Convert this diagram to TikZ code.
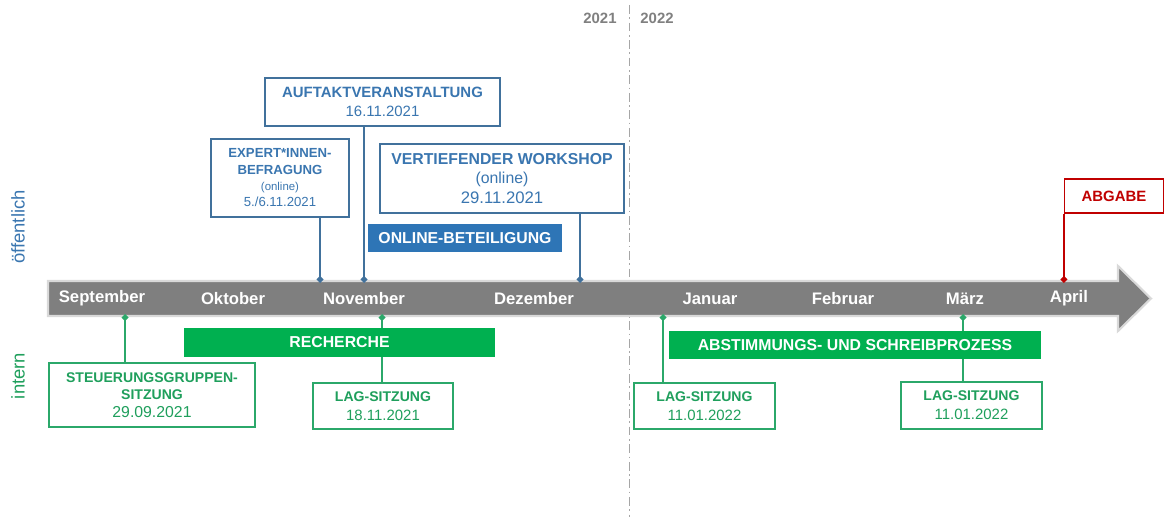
\documentclass[tikz,border=0pt]{standalone}
\usepackage{fontspec}
\setmainfont{Liberation Sans}
\usetikzlibrary{arrows.meta,positioning}
\usepackage{xcolor}
\definecolor{axisgrey}{HTML}{7F7F7F}
\definecolor{axisedge}{HTML}{D9D9D9}
\definecolor{yeargrey}{HTML}{808080}
\definecolor{publine}{HTML}{41719C}
\definecolor{pubtext}{HTML}{3A76B0}
\definecolor{pubfill}{HTML}{2E75B6}
\definecolor{intline}{HTML}{2BA86A}
\definecolor{inttext}{HTML}{1F9F5C}
\definecolor{intfill}{HTML}{00B050}
\definecolor{duered}{HTML}{C00000}

\tikzset{
  yearline/.style={draw=yeargrey!70, line width=0.5pt, dash pattern=on 5pt off 2pt on 1pt off 2pt},
  yeartext/.style={text=yeargrey, font=\fontsize{8.5}{10}\selectfont\bfseries},
  monthtext/.style={text=white, font=\fontsize{9.5}{11}\selectfont\bfseries},
  pubbox/.style={draw=publine, line width=0.6pt, fill=white, text=pubtext, align=center, inner sep=0pt},
  intbox/.style={draw=intline, line width=0.6pt, fill=white, text=inttext, align=center, inner sep=0pt},
  pubbar/.style={fill=pubfill, text=white, inner sep=0pt, font=\fontsize{9}{10}\selectfont\bfseries},
  intbar/.style={fill=intfill, text=white, inner sep=0pt, font=\fontsize{9}{10}\selectfont\bfseries},
  pubstem/.style={draw=publine, line width=1pt, -{Turned Square[length=4pt,width=4pt]}},
  intstem/.style={draw=intline, line width=1pt, -{Turned Square[length=4pt,width=4pt]}},
  duestem/.style={draw=duered, line width=1pt, -{Turned Square[length=4pt,width=4pt]}},
}

\begin{document}
\begin{tikzpicture}[x=0.02cm, y=-0.02cm]
  \useasboundingbox (0,0) rectangle (1164,517);

  % Year divider
  \draw[yearline] (629,5) -- (629,517);
  \node[yeartext] (y21) at (600,18) {2021};
  \node[yeartext] (y22) at (657,18) {2022};

  % Timeline arrow
  \filldraw[fill=axisgrey, draw=axisedge, line width=1.2pt]
    (48,281) -- (1118,281) -- (1118,266) -- (1151,298.5) -- (1118,331) -- (1118,316) -- (48,316) -- cycle;

  % Months
  \foreach \m/\x in {September/102, Oktober/233, November/364, Dezember/534,
                     Januar/710, Februar/843, März/965, April/1069}
    \node[monthtext] (m\x) at (\x,298.5) {\m};

  % Side labels
  \node[rotate=90, text=pubtext, font=\fontsize{10.5}{12}\selectfont] (lpub) at (18,227) {öffentlich};
  \node[rotate=90, text=inttext, font=\fontsize{10.5}{12}\selectfont] (lint) at (18,376) {intern};

  % Points on the axis
  \coordinate (tExp) at (320,283);
  \coordinate (tAuf) at (364,283);
  \coordinate (tVer) at (580,283);
  \coordinate (tAbg) at (1065,283);
  \coordinate (tSteu) at (125,314);
  \coordinate (tLagA) at (382,314);
  \coordinate (tLagB) at (663,314);
  \coordinate (tLagC) at (963,314);

  % Public events
  \node[pubbox, minimum width=4.7cm, minimum height=0.96cm,
        font=\fontsize{8.5}{10.8}\selectfont] (auftakt) at (382.5,102)
    {\textbf{AUFTAKTVERANSTALTUNG}\\16.11.2021};
  \node[pubbox, minimum width=2.76cm, minimum height=1.56cm,
        font=\fontsize{7.5}{9.3}\selectfont] (expert) at (280,178)
    {\textbf{EXPERT*INNEN-}\\\textbf{BEFRAGUNG}\\{\fontsize{6.5}{9.3}\selectfont(online)}\\5./6.11.2021};
  \node[pubbox, minimum width=4.88cm, minimum height=1.38cm,
        font=\fontsize{9}{11}\selectfont] (vertief) at (502,178.5)
    {\textbf{VERTIEFENDER WORKSHOP}\\(online)\\{\fontsize{9.5}{11}\selectfont 29.11.2021}};
  \node[pubbar, minimum width=3.88cm, minimum height=0.56cm] (online) at (465,238) {ONLINE-BETEILIGUNG};
  \node[pubbox, draw=duered, text=duered, minimum width=1.98cm, minimum height=0.68cm,
        font=\fontsize{8.5}{10}\selectfont\bfseries] (abgabe) at (1114,196) {ABGABE};

  \draw[pubstem] (expert.south -| tExp) -- (tExp);
  \draw[pubstem] (auftakt.south -| tAuf) -- (tAuf);
  \draw[pubstem] (vertief.south -| tVer) -- (tVer);
  \draw[duestem] (abgabe.south west) -- (abgabe.south west |- tAbg);

  % Internal events
  \node[intbox, minimum width=4.12cm, minimum height=1.28cm,
        font=\fontsize{8}{10}\selectfont] (steuer) at (152,395)
    {\textbf{STEUERUNGSGRUPPEN-}\\\textbf{SITZUNG}\\{\fontsize{9}{10}\selectfont 29.09.2021}};
  \node[intbox, minimum width=2.8cm, minimum height=0.92cm,
        font=\fontsize{8}{10.8}\selectfont] (lagA) at (383,406)
    {\textbf{LAG-SITZUNG}\\{\fontsize{8.5}{10.8}\selectfont 18.11.2021}};
  \node[intbox, minimum width=2.82cm, minimum height=0.92cm,
        font=\fontsize{8}{10.8}\selectfont] (lagB) at (704.5,406)
    {\textbf{LAG-SITZUNG}\\{\fontsize{8.5}{10.8}\selectfont 11.01.2022}};
  \node[intbox, minimum width=2.82cm, minimum height=0.94cm,
        font=\fontsize{8}{10.8}\selectfont] (lagC) at (971.5,405.5)
    {\textbf{LAG-SITZUNG}\\{\fontsize{8.5}{10.8}\selectfont 11.01.2022}};

  \draw[intstem] (steuer.north -| tSteu) -- (tSteu);
  \draw[intstem] (lagA.north -| tLagA) -- (tLagA);
  \draw[intstem] (lagB.north -| tLagB) -- (tLagB);
  \draw[intstem] (lagC.north -| tLagC) -- (tLagC);

  % Work phases
  \node[intbar, minimum width=6.22cm, minimum height=0.58cm] (recherche) at (339.5,342.5) {RECHERCHE};
  \node[intbar, minimum width=7.44cm, minimum height=0.56cm] (abstimm) at (855,345)
    {ABSTIMMUNGS- UND SCHREIBPROZESS};

\end{tikzpicture}
\end{document}
